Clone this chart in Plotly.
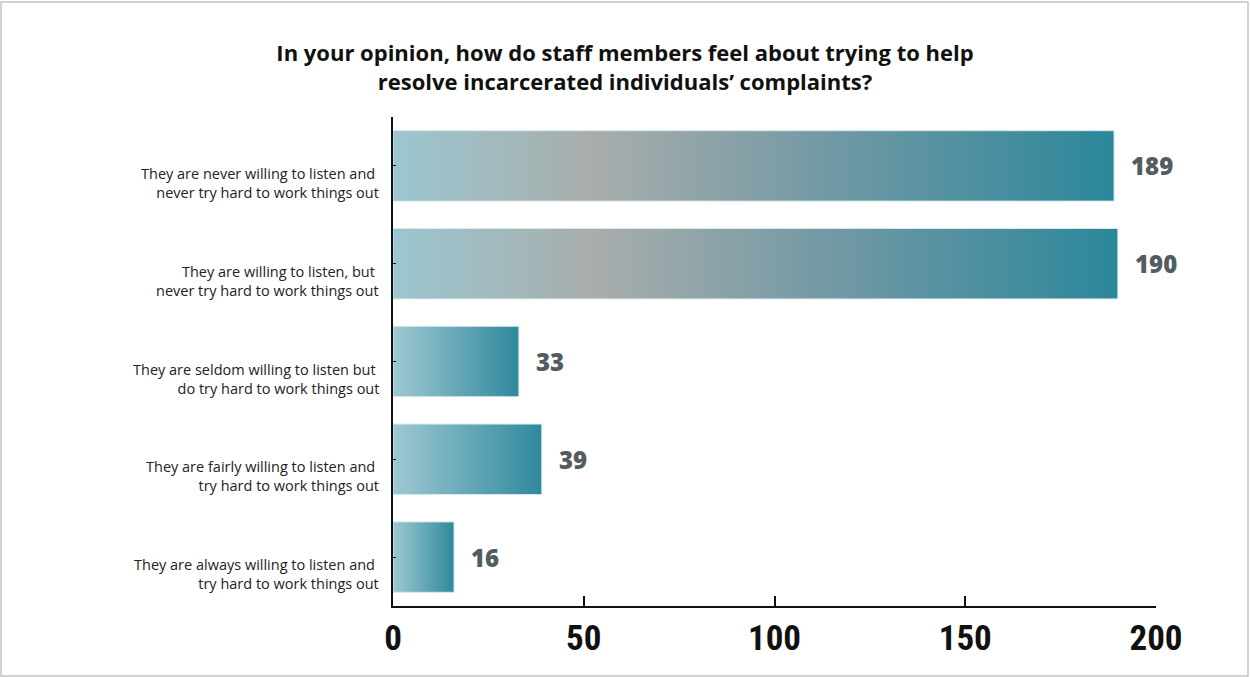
import plotly.graph_objects as go

categories = [
    "They are never willing to listen and <br>never try hard to work things out",
    "They are willing to listen, but <br>never try hard to work things out",
    "They are seldom willing to listen but <br>do try hard to work things out",
    "They are fairly willing to listen and <br>try hard to work things out",
    "They are always willing to listen and <br>try hard to work things out",
]
values = [189, 190, 33, 39, 16]
x_ticks = [0, 50, 100, 150, 200]

title_text = ("In your opinion, how do staff members feel about trying to help<br>"
              "resolve incarcerated individuals’ complaints?")

BAR_HALF = 0.36
scale_long = [[0, "#9cc6d0"], [0.28, "#a8adab"], [0.62, "#6f98a4"], [1, "#2b879b"]]
scale_short = [[0, "#9fc8d2"], [1, "#2f899d"]]

fig = go.Figure()
for i, (cat, v) in enumerate(zip(categories, values)):
    xs = [0, v, v, 0, 0]
    ys = [i - BAR_HALF, i - BAR_HALF, i + BAR_HALF, i + BAR_HALF, i - BAR_HALF]
    fig.add_trace(go.Scatter(
        x=xs, y=ys, mode="lines", fill="toself",
        line=dict(color="#d6e8ec", width=1),
        fillgradient=dict(type="horizontal",
                          colorscale=scale_long if v > 100 else scale_short),
        hoverinfo="skip", showlegend=False,
    ))
    fig.add_annotation(x=v, y=i, text=str(v), showarrow=False,
                       xanchor="left", xshift=15,
                       font=dict(family="Open Sans, Arial", size=24, color="#535d60",
                                 weight=800))
    fig.add_annotation(x=0, xref="paper", y=i, text=cat, showarrow=False,
                       xanchor="right", align="right", xshift=-12, yshift=-17,
                       font=dict(family="Open Sans, Arial", size=14.5, color="#222222"))

fig.update_layout(
    width=1250, height=677,
    paper_bgcolor="white", plot_bgcolor="white",
    margin=dict(l=393, r=94, t=117, b=71),
    title=dict(text=f"<b>{title_text}</b>", x=0.5, xanchor="center",
               y=0.910, yanchor="middle",
               font=dict(family="Open Sans, Arial", size=22, color="#111111")),
    xaxis=dict(range=[0, 200], tickvals=x_ticks, ticks="inside", ticklen=10,
               tickwidth=2, tickcolor="#111111", showline=True, linecolor="#111111",
               linewidth=2, showgrid=False, zeroline=False,
               tickfont=dict(family="Liberation Sans Narrow, Roboto Condensed, Arial Narrow, Roboto",
                             size=35, color="#111111", weight="bold")),
    yaxis=dict(range=[4.5, -0.5], tickvals=list(range(len(categories))),
               showticklabels=False, showline=True, linecolor="#111111", linewidth=2,
               showgrid=False, zeroline=False, ticks="inside", ticklen=3,
               tickcolor="#111111"),
    shapes=[dict(type="rect", xref="paper", yref="paper",
                 x0=(1 - 393) / 763, x1=(1248 - 393) / 763,
                 y0=(606 - 676) / 489, y1=(606 - 2) / 489,
                 line=dict(color="#c4c4c4", width=1.5), layer="below")],
)

fig.write_html("out.html", config={"displayModeBar": False},
               post_script="document.body.style.margin='0';document.body.style.overflow='hidden';")
